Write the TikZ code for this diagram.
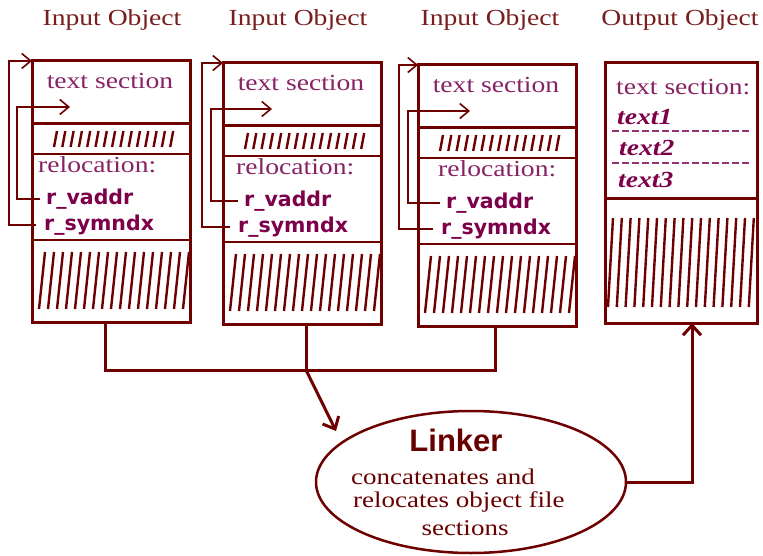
\documentclass[tikz,border=0pt]{standalone}
\usepackage{fontspec}
\newfontfamily\ttlfont[FakeStretch=1.2]{Liberation Serif}
\newfontfamily\dvsans{DejaVu Sans}
\newfontfamily\lsans{Liberation Sans}
\usetikzlibrary{arrows.meta,shapes.geometric}
\definecolor{linecol}{RGB}{110,0,0}
\definecolor{titlecol}{RGB}{120,30,30}
\definecolor{seccol}{RGB}{135,35,100}
\definecolor{boldcol}{RGB}{125,0,75}
\definecolor{dashcol}{RGB}{150,50,110}
\definecolor{lkcol}{RGB}{105,0,0}
\tikzset{
  boxst/.style={draw=linecol, line width=3pt, inner sep=0, outer sep=0},
  thickdiv/.style={draw=linecol, line width=3pt},
  thindiv/.style={draw=linecol, line width=1.6pt},
  loopln/.style={draw=linecol, line width=1.6pt},
  conn/.style={draw=linecol, line width=3pt},
  hatchs/.style={draw=linecol, line width=2.4pt},
  hatchl/.style={draw=linecol, line width=2.4pt},
  dashln/.style={draw=dashcol, line width=1.3pt, dash pattern=on 7pt off 3pt},
  ttl/.style={font=\ttlfont\fontsize{23}{26}\selectfont, text=titlecol, inner sep=0},
  sec/.style={font=\ttlfont\fontsize{23}{26}\selectfont, text=seccol, inner sep=1pt},
  relb/.style={font=\dvsans\bfseries\fontsize{20.5}{24}\selectfont, text=boldcol, inner sep=1pt, anchor=west},
  outit/.style={font=\ttlfont\bfseries\itshape\fontsize{23}{26}\selectfont, text=boldcol, inner sep=1pt, anchor=west},
  desc/.style={font=\ttlfont\fontsize{22.5}{26}\selectfont, text=lkcol, inner sep=0},
  barb/.style={-{Straight Barb[length=9pt,width=15pt]}},
  bigbarb/.style={-{Straight Barb[length=10pt,width=18pt]}}
}
\begin{document}
\begin{tikzpicture}[x=1pt,y=-1pt]
\useasboundingbox (0,0) rectangle (763,556);
\fill[white] (0,0) rectangle (763,556);

% titles
\node[ttl] (t1) at (112,20) {Input Object};
\node[ttl] (t2) at (298,20) {Input Object};
\node[ttl] (t3) at (490,20) {Input Object};
\node[ttl] (t4) at (680,20) {Output Object};

% input objects
\foreach \bx/\by/\ox/\ix/\tp/\vx/\sx/\n in {32/61/9/17/70/45/43/1, 223/63/202/211/272/243/237/2, 418/65/399/408/470/445/440/3}{
  \node[boxst, anchor=north west, minimum width=158pt, minimum height=261pt] (box\n) at (\bx,\by) {};
  \draw[thickdiv] (\bx,{\by+63}) -- ({\bx+158},{\by+63});
  \draw[thindiv] (\bx,{\by+93}) -- ({\bx+158},{\by+93});
  \draw[thindiv] (\bx,{\by+179}) -- ({\bx+158},{\by+179});
  \foreach \k in {0,...,14}
    \draw[hatchs] ({\bx+22+\k*8.3+3},{\by+70}) -- ({\bx+22+\k*8.3},{\by+86});
  \foreach \k in {0,...,16}
    \draw[hatchl] ({\bx+7+\k*9+6},{\by+191}) -- ({\bx+7+\k*9},{\by+248});
  \node[sec] (ts\n) at ({\bx+78},{\by+20}) {text section};
  \node[sec, anchor=west] (rl\n) at ({\vx-8},{\by+104}) {relocation:};
  \node[relb] (rv\n) at (\vx,{\by+138}) {r\_vaddr};
  \node[relb] (rs\n) at (\sx,{\by+164}) {r\_symndx};
  \coordinate (tip\n) at (\tp,{\by+46});
  \draw[loopln, barb] ([xshift=-5pt]rv\n.west) -| (\ix,{\by+46}) -- (tip\n);
  \draw[loopln, barb] ([xshift=-7pt]rs\n.west) -| (\ox,\by) -- (box\n.north west);
}

% output object
\node[boxst, anchor=north west, minimum width=152pt, minimum height=260pt] (outbox) at (605,63) {};
\draw[thickdiv] (605,199) -- (757,199);
\foreach \k in {0,...,16}
  \draw[hatchl] ({608+\k*8.8+5},218) -- ({608+\k*8.8},307);
\node[sec, anchor=west] (os) at (615,87) {text section:};
\node[outit] (o1) at (616,117) {text1};
\node[outit] (o2) at (618,148) {text2};
\node[outit] (o3) at (617,180) {text3};
\draw[dashln] (612,131) -- (752,131);
\draw[dashln] (612,163) -- (752,163);

% linker
\node[ellipse, draw=linecol, line width=2.5pt, minimum width=310pt, minimum height=142pt, inner sep=0] (linker) at (471,482) {};
\node[font=\lsans\bfseries\fontsize{31}{34}\selectfont, text=lkcol, inner sep=0] (lk) at (456,440) {Linker};
\node[desc, anchor=west] (d1) at (351,477) {concatenates and};
\node[desc, anchor=west] (d2) at (353,502) {relocates object file};
\node[desc] (d3) at (465,528) {sections};

% connectors
\coordinate (s1) at ([xshift=-6pt]box1.south);
\coordinate (s2) at ([xshift=4pt]box2.south);
\coordinate (s3) at ([xshift=-2pt]box3.south);
\coordinate (hz) at (0,370);
\coordinate (join) at (s2 |- hz);
\draw[conn] (s1) |- (join) -| (s3);
\draw[conn] (s2) -- (join);
\coordinate (ltip) at (336,431);
\draw[conn, bigbarb] (join) -- (ltip);
\draw[conn, bigbarb] (linker.east) -| ([xshift=11pt]outbox.south);
\end{tikzpicture}
\end{document}
